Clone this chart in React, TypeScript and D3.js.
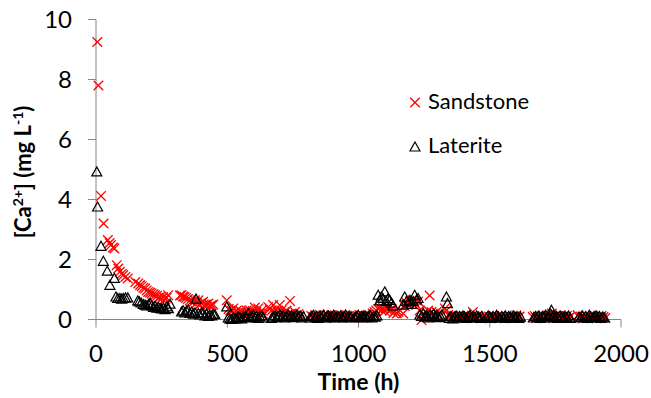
import React from "react";
import * as d3 from "d3";

const xTicks = [0, 500, 1000, 1500, 2000];
const yTicks = [0, 2, 4, 6, 8, 10];
const seriesNames = ["Sandstone", "Laterite"];

const sandstone: [number, number][] = [
  [5, 9.25], [9, 7.8], [19, 4.12], [29, 3.2], [45, 2.65], [52, 2.55], [57, 2.48], [65, 2.4], [70, 2.37], [79, 1.81],
  [85, 1.7], [91, 1.59], [98, 1.52], [104, 1.48], [112, 1.42], [121, 1.37], [150, 1.25], [161, 1.2], [168, 1.15], [174, 1.11],
  [181, 1.06], [187, 1.03], [193, 0.97], [199, 0.92], [206, 0.9], [212, 0.87], [219, 0.84], [225, 0.81], [232, 0.78], [238, 0.72],
  [244, 0.75], [250, 0.7], [256, 0.75], [263, 0.68], [269, 0.72], [275, 0.81], [320, 0.8], [326, 0.81], [332, 0.77], [337, 0.75],
  [343, 0.72], [350, 0.68], [357, 0.63], [364, 0.6], [371, 0.58], [377, 0.64], [384, 0.55], [390, 0.64], [396, 0.5], [402, 0.55],
  [408, 0.59], [415, 0.47], [421, 0.5], [428, 0.53], [434, 0.45], [441, 0.48], [447, 0.5],
  [498, 0.64], [505, 0.35], [511, 0.3], [517, 0.28], [523, 0.37], [530, 0.22], [536, 0.3], [543, 0.2], [549, 0.28], [555, 0.25],
  [562, 0.18], [568, 0.22], [574, 0.3], [580, 0.2], [586, 0.31], [592, 0.22], [598, 0.28], [605, 0.4], [611, 0.25], [618, 0.37],
  [624, 0.2], [631, 0.3], [637, 0.18],
  [656, 0.42], [662, 0.35], [669, 0.3], [675, 0.48], [681, 0.25], [688, 0.3], [694, 0.22], [700, 0.48], [706, 0.3], [713, 0.2],
  [719, 0.25], [726, 0.3], [732, 0.18], [739, 0.62], [745, 0.2], [752, 0.15], [758, 0.25], [765, 0.12], [771, 0.18], [777, 0.1],
  [820, 0.12], [827, 0.08], [834, 0.14], [840, 0.06], [846, 0.1], [853, 0.15], [859, 0.08], [866, 0.12], [872, 0.05], [878, 0.14],
  [885, 0.1], [891, 0.08], [898, 0.15], [904, 0.12], [911, 0.06], [917, 0.1], [924, 0.14], [930, 0.08], [937, 0.12], [943, 0.1],
  [950, 0.15], [956, 0.08], [963, 0.12], [969, 0.06], [975, 0.1],
  [990, 0.12], [996, 0.08], [1003, 0.15], [1009, 0.1], [1016, 0.06], [1022, 0.12], [1029, 0.1], [1035, 0.15], [1041, 0.08], [1048, 0.12],
  [1054, 0.2], [1061, 0.25], [1067, 0.3],
  [1075, 0.35], [1082, 0.4], [1088, 0.3], [1094, 0.38], [1100, 0.28], [1107, 0.35], [1113, 0.4], [1120, 0.3], [1126, 0.35], [1133, 0.22],
  [1139, 0.28], [1146, 0.2], [1152, 0.25],
  [1170, 0.2], [1176, 0.45], [1183, 0.55], [1189, 0.5], [1196, 0.6], [1202, 0.55], [1206, 0.64], [1213, 0.58], [1219, 0.5], [1227, 0.6],
  [1233, 0.3], [1240, -0.02], [1246, 0.2], [1252, 0.15], [1259, 0.22], [1265, 0.3], [1271, 0.8], [1278, 0.25], [1284, 0.2], [1290, 0.15],
  [1297, 0.25], [1303, 0.18], [1310, 0.12],
  [1329, 0.37], [1335, 0.3], [1342, 0.15], [1348, 0.1],
  [1355, 0.08], [1361, 0.12], [1368, 0.05], [1374, 0.1], [1381, 0.06], [1387, 0.12], [1394, 0.08], [1400, 0.04], [1407, 0.1], [1413, 0.06],
  [1420, 0.12], [1426, 0.08], [1436, 0.25], [1442, 0.1], [1449, 0.05], [1455, 0.12], [1462, 0.08], [1468, 0.04], [1475, 0.1],
  [1490, 0.06], [1497, 0.1], [1503, 0.04], [1510, 0.08], [1516, 0.12], [1523, 0.05], [1529, 0.1], [1536, 0.06], [1542, 0.12], [1549, 0.08],
  [1555, 0.04], [1562, 0.1], [1568, 0.06], [1575, 0.12], [1581, 0.08], [1588, 0.05], [1594, 0.1], [1601, 0.14], [1607, 0.06], [1614, 0.1],
  [1664, 0.08], [1671, 0.12], [1677, 0.05], [1684, 0.1], [1690, 0.06], [1697, 0.12], [1703, 0.08], [1710, 0.04], [1716, 0.1], [1723, 0.14],
  [1729, 0.06], [1736, 0.2], [1742, 0.08], [1749, 0.12], [1755, 0.05], [1762, 0.1], [1768, 0.14], [1775, 0.06], [1781, 0.1], [1788, 0.08],
  [1794, 0.12], [1801, 0.05], [1807, 0.1],
  [1835, 0.14], [1842, 0.06], [1848, 0.1], [1855, 0.04], [1861, 0.08], [1868, 0.12], [1874, 0.05], [1881, 0.1], [1887, 0.06], [1894, 0.12],
  [1900, 0.08], [1907, 0.04], [1913, 0.1], [1920, 0.06], [1926, 0.12], [1933, 0.08], [1940, 0.05],
];

const laterite: [number, number][] = [
  [3, 4.92], [6, 3.75], [19, 2.44], [28, 1.94], [43, 1.61], [53, 1.14], [70, 1.37], [76, 0.75], [83, 0.7], [91, 0.7],
  [98, 0.68], [104, 0.7], [112, 0.72], [121, 0.72], [159, 0.62], [165, 0.59], [172, 0.55], [180, 0.5], [187, 0.48], [193, 0.45],
  [200, 0.5], [206, 0.53], [212, 0.46], [219, 0.4], [225, 0.44], [232, 0.38], [238, 0.4], [244, 0.37], [250, 0.35], [257, 0.38],
  [263, 0.33], [270, 0.42], [276, 0.36], [282, 0.51],
  [326, 0.25], [332, 0.29], [338, 0.22], [345, 0.28], [351, 0.31], [358, 0.2], [364, 0.25], [371, 0.18], [377, 0.22], [381, 0.68],
  [390, 0.2], [396, 0.15], [402, 0.22], [408, 0.2], [415, 0.12], [421, 0.18], [428, 0.1], [434, 0.14], [441, 0.12], [447, 0.18],
  [453, 0.16],
  [498, 0.42], [504, 0.05], [510, 0.02], [516, 0.0], [523, 0.05], [530, 0.02], [536, 0.03], [543, 0.08], [549, 0.05], [555, 0.02],
  [561, 0.07], [568, 0.1], [574, 0.05], [580, 0.2], [587, 0.08], [593, 0.12], [600, 0.14], [606, 0.06], [612, 0.1], [618, 0.04],
  [624, 0.09], [631, 0.12], [637, 0.05],
  [669, 0.04], [675, 0.08], [682, 0.12], [688, 0.06], [694, 0.1], [700, 0.15], [707, 0.08], [713, 0.12], [720, 0.05], [726, 0.1],
  [732, 0.14], [739, 0.08], [745, 0.12], [752, 0.06], [758, 0.1], [765, 0.14], [771, 0.08], [777, 0.12], [784, 0.05], [790, 0.1],
  [815, 0.05], [821, 0.1], [828, 0.14], [834, 0.06], [841, 0.1], [847, 0.04], [854, 0.12], [860, 0.08], [867, 0.15], [873, 0.05],
  [880, 0.1], [886, 0.12], [893, 0.06], [899, 0.1], [906, 0.14], [912, 0.05], [919, 0.1], [925, 0.08], [932, 0.12], [938, 0.06],
  [945, 0.1], [951, 0.15], [958, 0.05], [964, 0.1], [971, 0.08],
  [986, 0.06], [992, 0.1], [999, 0.14], [1005, 0.05], [1012, 0.1], [1018, 0.08], [1025, 0.12], [1031, 0.06], [1038, 0.1], [1044, 0.15],
  [1051, 0.05], [1057, 0.1], [1064, 0.08], [1070, 0.12],
  [1075, 0.81], [1081, 0.62], [1087, 0.75], [1093, 0.7], [1100, 0.92], [1106, 0.6], [1113, 0.7], [1119, 0.64], [1126, 0.55], [1132, 0.45],
  [1170, 0.48], [1176, 0.75], [1183, 0.6], [1189, 0.55], [1196, 0.64], [1202, 0.5], [1208, 0.6], [1214, 0.81], [1221, 0.65], [1227, 0.7],
  [1234, 0.15], [1240, 0.1], [1247, 0.2], [1253, 0.08], [1260, 0.12], [1266, 0.05], [1273, 0.15], [1279, 0.1], [1286, 0.18], [1292, 0.08],
  [1299, 0.12], [1305, 0.06], [1312, 0.1], [1318, 0.15],
  [1335, 0.75], [1339, 0.53], [1346, 0.04], [1352, 0.1], [1359, 0.02], [1365, 0.08], [1372, 0.12], [1378, 0.05], [1385, 0.1], [1391, 0.06],
  [1398, 0.12], [1404, 0.08], [1411, 0.04], [1417, 0.1], [1424, 0.14], [1430, 0.06], [1437, 0.1], [1443, 0.05], [1450, 0.12], [1456, 0.08],
  [1463, 0.04], [1469, 0.1],
  [1487, 0.05], [1494, 0.12], [1500, 0.08], [1507, 0.04], [1513, 0.1], [1520, 0.06], [1526, 0.14], [1533, 0.08], [1539, 0.05], [1546, 0.1],
  [1552, 0.06], [1559, 0.12], [1565, 0.04], [1572, 0.1], [1578, 0.08], [1585, 0.05], [1591, 0.12], [1598, 0.06], [1604, 0.1], [1611, 0.04],
  [1617, 0.08],
  [1667, 0.05], [1674, 0.1], [1680, 0.06], [1687, 0.12], [1693, 0.04], [1700, 0.1], [1706, 0.08], [1713, 0.14], [1719, 0.05], [1726, 0.1],
  [1732, 0.18], [1735, 0.31], [1742, 0.12], [1748, 0.06], [1755, 0.1], [1761, 0.04], [1768, 0.12], [1774, 0.08], [1781, 0.05], [1787, 0.1],
  [1794, 0.06], [1800, 0.12], [1807, 0.04],
  [1840, 0.08], [1846, 0.05], [1853, 0.12], [1859, 0.06], [1866, 0.1], [1872, 0.04], [1879, 0.14], [1885, 0.08], [1892, 0.05], [1898, 0.1],
  [1905, 0.12], [1911, 0.06], [1918, 0.1], [1924, 0.04], [1931, 0.08], [1937, 0.05],
];

const W = 651;
const H = 398;
const FONT = "Lato, 'Open Sans', sans-serif";
const AXIS = "#868686";

function Cross({ x, y, r, sw }: { x: number; y: number; r: number; sw: number }) {
  return (
    <path
      d={`M${x - r},${y - r}L${x + r},${y + r}M${x - r},${y + r}L${x + r},${y - r}`}
      stroke="#ff0000"
      strokeWidth={sw}
      fill="none"
    />
  );
}

function Tri({ x, y, r, sw }: { x: number; y: number; r: number; sw: number }) {
  return (
    <path
      d={`M${x},${y - r}L${x + r},${y + r * 0.8}L${x - r},${y + r * 0.8}Z`}
      stroke="#000"
      strokeWidth={sw}
      fill="none"
      strokeLinejoin="miter"
    />
  );
}

export default function App() {
  const x = d3.scaleLinear().domain([0, 2000]).range([96, 621]);
  const y = d3.scaleLinear().domain([0, 10]).range([319.5, 19.5]);

  return (
    <svg width={W} height={H} style={{ position: "absolute", left: 0, top: 0, background: "#fff" }}>
      <rect width={W} height={H} fill="#fff" />
      {/* axes */}
      <line x1={x(0)} x2={x(0)} y1={y(10)} y2={y(0)} stroke={AXIS} strokeWidth={1} />
      <line x1={x(0)} x2={x(2000)} y1={y(0)} y2={y(0)} stroke={AXIS} strokeWidth={1} />
      {yTicks.map((t) => (
        <g key={"y" + t}>
          <line x1={x(0) - 8} x2={x(0)} y1={y(t)} y2={y(t)} stroke={AXIS} strokeWidth={1} />
          <text x={72} y={y(t)} dy="0.36em" textAnchor="end" fontFamily={FONT} fontSize={24} fill="#000">
            {t}
          </text>
        </g>
      ))}
      {xTicks.map((t) => (
        <g key={"x" + t}>
          <line x1={x(t)} x2={x(t)} y1={y(0)} y2={y(0) + 8} stroke={AXIS} strokeWidth={1} />
          <text x={x(t)} y={362} textAnchor="middle" fontFamily={FONT} fontSize={24} fill="#000">
            {t}
          </text>
        </g>
      ))}
      {/* axis titles */}
      <text x={358.5} y={390} textAnchor="middle" fontFamily={FONT} fontSize={23} fontWeight="bold" fill="#000">
        Time (h)
      </text>
      <text
        transform={`translate(31,172) rotate(-90)`}
        textAnchor="middle"
        fontFamily={FONT}
        fontSize={22}
        fontWeight="bold"
        fill="#000"
      >
        [Ca
        <tspan fontSize={14} dy={-8}>2+</tspan>
        <tspan dy={8}>] (mg L</tspan>
        <tspan fontSize={14} dy={-8}>-1</tspan>
        <tspan dy={8}>)</tspan>
      </text>
      {/* data */}
      <g>
        {sandstone.map((d, i) => (
          <Cross key={"s" + i} x={x(d[0])} y={y(d[1])} r={4.8} sw={1.3} />
        ))}
      </g>
      <g>
        {laterite.map((d, i) => (
          <Tri key={"l" + i} x={x(d[0])} y={y(d[1])} r={5} sw={1.2} />
        ))}
      </g>
      {/* legend */}
      <Cross x={415} y={102.5} r={4.8} sw={1.3} />
      <text x={428} y={101.5} dy="0.36em" fontFamily={FONT} fontSize={22} fill="#000">
        {seriesNames[0]}
      </text>
      <Tri x={415} y={147} r={5} sw={1.2} />
      <text x={428} y={145} dy="0.36em" fontFamily={FONT} fontSize={22} fill="#000">
        {seriesNames[1]}
      </text>
    </svg>
  );
}
